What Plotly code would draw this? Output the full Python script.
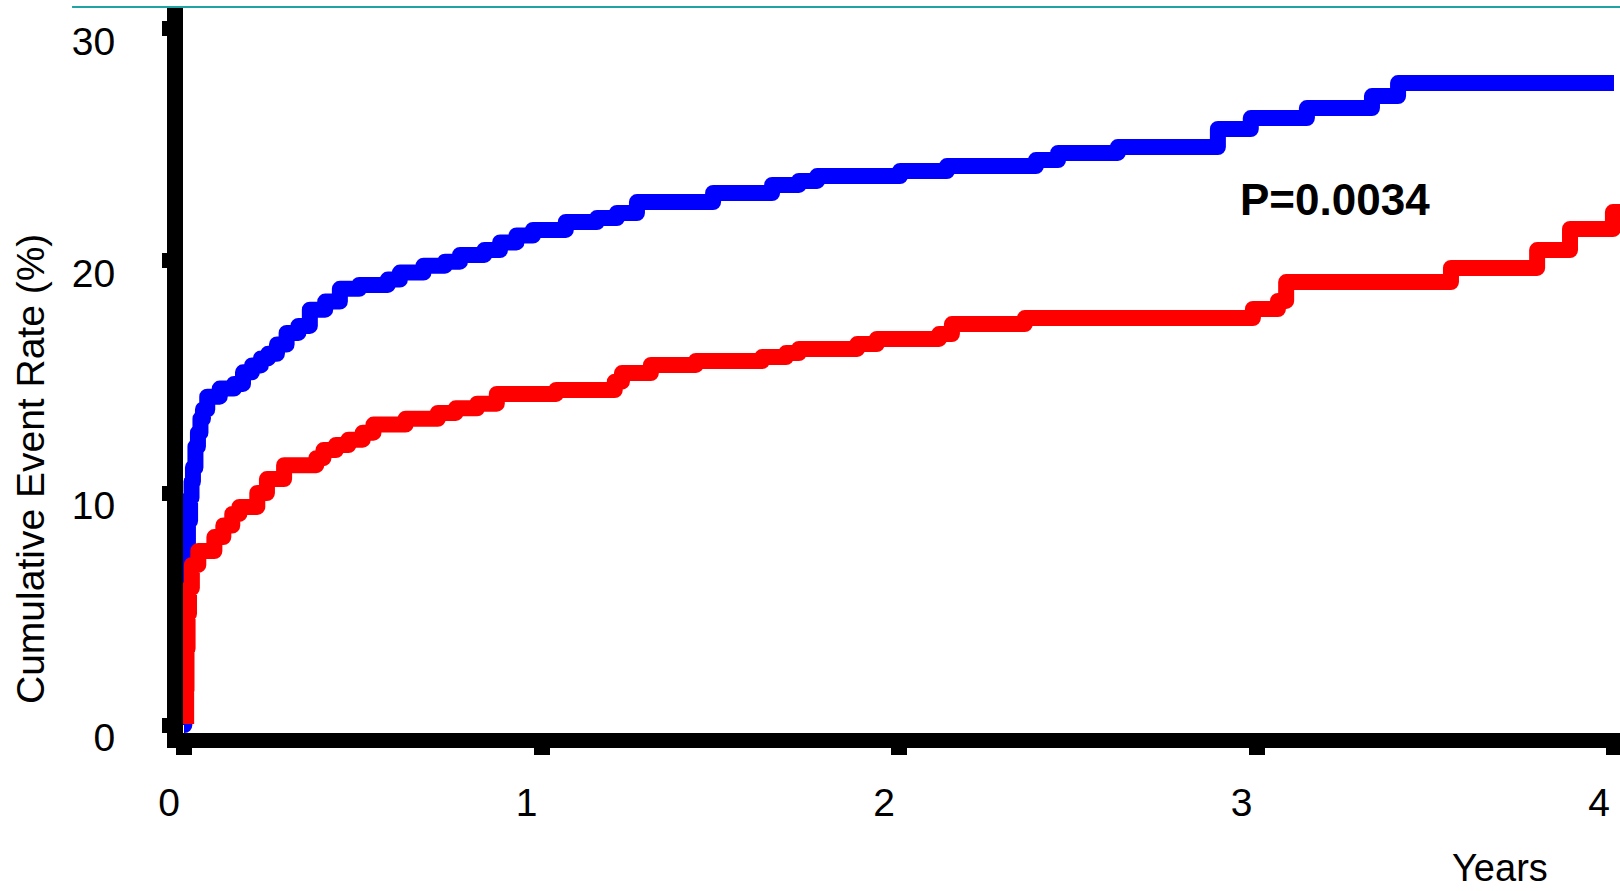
import plotly.graph_objects as go

# Cumulative event rate (%) over follow-up (years), two treatment groups
blue_years = [0.000, 0.001, 0.003, 0.006, 0.011, 0.017, 0.021, 0.025, 0.032, 0.039,
              0.046, 0.053, 0.065, 0.100, 0.140, 0.165, 0.190, 0.215, 0.235, 0.260,
              0.287, 0.320, 0.352, 0.395, 0.436, 0.490, 0.570, 0.604, 0.670, 0.730,
              0.772, 0.840, 0.884, 0.930, 0.976, 1.068, 1.155, 1.211, 1.267, 1.480,
              1.645, 1.720, 1.771, 2.003, 2.134, 2.383, 2.445, 2.612, 2.892, 2.984,
              3.141, 3.323, 3.396, 4.000]
blue_rate = [0.0, 3.0, 6.0, 7.6, 8.8, 9.8, 10.5, 11.1, 12.0, 12.6,
             13.2, 13.6, 14.15, 14.5, 14.7, 15.2, 15.5, 15.8, 16.0, 16.4,
             16.9, 17.2, 17.9, 18.25, 18.8, 18.97, 19.2, 19.5, 19.8, 19.97,
             20.26, 20.47, 20.8, 21.1, 21.34, 21.68, 21.85, 22.07, 22.54, 22.93,
             23.28, 23.45, 23.66, 23.88, 24.09, 24.35, 24.66, 24.91, 25.69, 26.16,
             26.59, 27.11, 27.67, 27.67]

red_years = [0.006, 0.006, 0.007, 0.010, 0.014, 0.022, 0.040, 0.085, 0.110, 0.135,
             0.155, 0.205, 0.232, 0.280, 0.370, 0.390, 0.425, 0.460, 0.500, 0.530,
             0.620, 0.710, 0.760, 0.820, 0.875, 1.041, 1.205, 1.225, 1.306, 1.432,
             1.617, 1.684, 1.720, 1.883, 1.938, 2.112, 2.148, 2.352, 2.990, 3.060,
             3.083, 3.544, 3.785, 3.877, 3.997, 4.030]
red_rate = [0.04, 1.5, 3.3, 4.8, 5.9, 6.9, 7.5, 8.1, 8.6, 9.1,
            9.4, 10.0, 10.6, 11.2, 11.5, 11.85, 12.07, 12.3, 12.6, 12.95,
            13.2, 13.45, 13.65, 13.85, 14.27, 14.44, 14.8, 15.17, 15.52, 15.69,
            15.86, 16.03, 16.21, 16.42, 16.64, 16.85, 17.28, 17.54, 17.93, 18.28,
            19.09, 19.70, 20.47, 21.38, 22.11, 22.11]

x_ticks = [0, 1, 2, 3, 4]
y_ticks = [0, 10, 20, 30]
p_value_text = "P=0.0034"
x_title = "Years"
y_title = "Cumulative Event Rate (%)"

FONT = "Liberation Sans, Arial, Helvetica, sans-serif"

fig = go.Figure()
fig.add_trace(go.Scatter(x=blue_years, y=blue_rate, mode="lines",
                         line=dict(color="#0000FF", width=16, shape="hv"),
                         showlegend=False, hoverinfo="skip"))
fig.add_trace(go.Scatter(x=red_years, y=red_rate, mode="lines",
                         line=dict(color="#FF0000", width=16, shape="hv"),
                         showlegend=False, hoverinfo="skip"))

fig.update_layout(
    width=1620, height=891,
    margin=dict(l=183, r=0, t=7, b=158, pad=0),
    paper_bgcolor="white", plot_bgcolor="white",
    font=dict(family=FONT, color="black"),
    xaxis=dict(range=[-0.0028, 4.0168], showgrid=False, zeroline=False,
               showline=True, linewidth=15, linecolor="black",
               ticks="outside", ticklen=7, tickwidth=16, tickcolor="black",
               tickvals=x_ticks, ticktext=[str(v) for v in x_ticks],
               tickfont=dict(size=39, family=FONT, color="black"),
               ticklabelshift=-15, ticklabelstandoff=14),
    yaxis=dict(range=[-0.345, 30.948], showgrid=False, zeroline=False,
               showline=True, linewidth=16, linecolor="black",
               ticks="outside", ticklen=5, tickwidth=15, tickcolor="black",
               tickvals=y_ticks, ticktext=[str(v) for v in y_ticks],
               tickfont=dict(size=39, family=FONT, color="black"),
               ticklabelshift=12, ticklabelstandoff=39,
               ticklabeloverflow="allow"),
)

# thin teal rule across the top
fig.add_shape(type="line", xref="paper", yref="paper",
              x0=-0.0772, x1=1.0, y0=1.0, y1=1.0,
              line=dict(color="#1FA3A3", width=2), layer="above")

fig.add_annotation(text=y_title, xref="paper", yref="paper",
                   x=-0.1065, y=0.3636, textangle=-90, showarrow=False,
                   xanchor="center", yanchor="middle",
                   font=dict(size=39, family=FONT, color="black"))
fig.add_annotation(text=x_title, xref="paper", yref="paper",
                   x=0.9165, y=-0.186, showarrow=False,
                   xanchor="center", yanchor="middle",
                   font=dict(size=38, family=FONT, color="black"))
fig.add_annotation(text="<b>" + p_value_text + "</b>", x=3.2196, y=22.63,
                   showarrow=False, xanchor="center", yanchor="middle",
                   font=dict(size=44, family=FONT, color="black"))

# rounded corners on the step curves
round_joins = """
var s = document.createElement('style');
s.textContent = '.scatterlayer path.js-line{stroke-linejoin:round !important;}';
document.head.appendChild(s);
"""
fig.write_html("out.html", post_script=round_joins)
